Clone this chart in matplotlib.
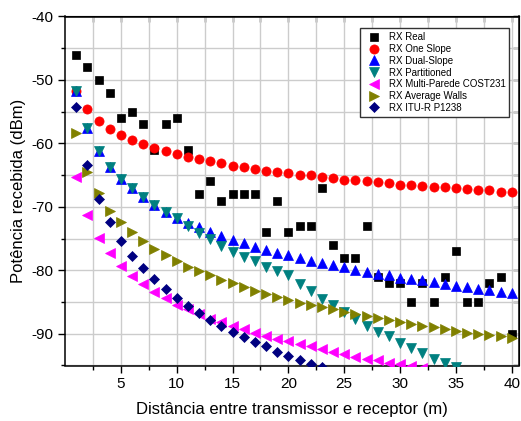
import numpy as np
import matplotlib
matplotlib.use('Agg')
import matplotlib.pyplot as plt
from matplotlib.ticker import MultipleLocator, FixedLocator

plt.rcParams['font.family'] = ['Liberation Sans', 'DejaVu Sans']
plt.rcParams['axes.unicode_minus'] = False

# distances (m)
d = np.arange(1, 41)

rx_real = [-46, -48, -50, -52, -56, -55, -57, -61, -57, -56,
           -61, -68, -66, -69, -68, -68, -68, -74, -69, -74,
           -73, -73, -67, -76, -78, -78, -73, -81, -82, -82,
           -85, -82, -85, -81, -77, -85, -85, -82, -81, -90]

rx_one_slope = [-51.7, -54.6, -56.4, -57.7, -58.6, -59.5, -60.1, -60.7, -61.2, -61.7,
                -62.1, -62.5, -62.8, -63.1, -63.5, -63.7, -64.0, -64.3, -64.5, -64.7,
                -64.9, -65.0, -65.3, -65.5, -65.7, -65.8, -66.0, -66.1, -66.3, -66.5,
                -66.6, -66.7, -66.8, -66.9, -67.0, -67.2, -67.3, -67.4, -67.6, -67.6]

rx_dual_slope = [-51.7, -57.6, -61.2, -63.7, -65.6, -67.1, -68.4, -69.7, -70.8, -71.8,
                 -72.6, -73.2, -73.9, -74.6, -75.2, -75.7, -76.3, -76.8, -77.2, -77.6,
                 -78.1, -78.5, -78.8, -79.2, -79.5, -80.0, -80.2, -80.6, -80.8, -81.2,
                 -81.4, -81.6, -81.9, -82.2, -82.5, -82.7, -82.9, -83.1, -83.4, -83.6]

rx_partitioned = [-51.7, -57.6, -61.2, -63.7, -65.6, -67.1, -68.4, -69.7, -70.8, -71.8,
                  -73.0, -74.1, -75.1, -76.2, -77.1, -77.9, -78.6, -79.4, -80.1, -80.7,
                  -82.1, -83.3, -84.5, -85.5, -86.6, -87.7, -88.7, -89.7, -90.4, -91.5,
                  -92.3, -93.1, -93.9, -94.6, -95.2]

rx_cost231 = [-65.3, -71.3, -74.9, -77.2, -79.3, -80.9, -82.2, -83.4, -84.4, -85.4,
              -86.1, -86.9, -87.6, -88.2, -88.8, -89.3, -89.8, -90.3, -90.8, -91.2,
              -91.6, -92.0, -92.4, -92.9, -93.2, -93.6, -93.9, -94.2, -94.6, -94.8,
              -95.1, -95.4]

rx_avg_walls = [-58.4, -64.5, -67.8, -70.6, -72.4, -74.0, -75.4, -76.6, -77.6, -78.5,
                -79.4, -80.1, -80.8, -81.5, -82.0, -82.7, -83.2, -83.7, -84.2, -84.6,
                -85.1, -85.5, -85.8, -86.1, -86.6, -86.9, -87.2, -87.5, -87.8, -88.1,
                -88.5, -88.7, -89.0, -89.2, -89.5, -89.8, -90.0, -90.2, -90.4, -90.6]

rx_itu = [-54.3, -63.4, -68.8, -72.4, -75.4, -77.7, -79.7, -81.4, -83.0, -84.4,
          -85.6, -86.8, -87.8, -88.8, -89.7, -90.5, -91.3, -92.0, -92.8, -93.5,
          -94.2, -94.8, -95.2, -96.0]

series = [
    ('RX Real', rx_real, 's', 'black', 5.6),
    ('RX One Slope', rx_one_slope, 'o', '#ff0000', 6.6),
    ('RX Dual-Slope', rx_dual_slope, '^', '#0000ff', 7.0),
    ('RX Partitioned', rx_partitioned, 'v', '#008080', 7.0),
    ('RX Multi-Parede COST231', rx_cost231, '<', '#ff00ff', 7.0),
    ('RX Average Walls', rx_avg_walls, '>', '#808000', 7.0),
    ('RX ITU-R P1238', rx_itu, 'D', '#000080', 4.8),
]

fig = plt.figure(figsize=(5.21, 4.21), dpi=100)
ax = fig.add_axes([65 / 521, 1 - 365.5 / 421, 454 / 521, 349 / 421])

for label, vals, m, c, ms in series:
    ax.plot(d[:len(vals)], vals, linestyle='none', marker=m, color=c,
            markersize=ms, markeredgewidth=0.5, label=label, zorder=3)

ax.set_xlim(0, 40.65)
ax.set_ylim(-95, -40)
ax.xaxis.set_major_locator(FixedLocator([5, 10, 15, 20, 25, 30, 35, 40]))
ax.xaxis.set_minor_locator(FixedLocator([2.5, 7.5, 12.5, 17.5, 22.5, 27.5, 32.5, 37.5]))
ax.yaxis.set_major_locator(MultipleLocator(10))
ax.yaxis.set_minor_locator(MultipleLocator(5))

ax.grid(True, which='both', color='#cccccc', linewidth=1.0, zorder=0)
ax.set_axisbelow(True)

ax.tick_params(which='major', direction='out', length=5, width=1, labelsize=11)
ax.tick_params(which='minor', direction='out', length=3, width=1)
for s in ax.spines.values():
    s.set_linewidth(1.1)

# mirrored ticks on top and right, pointing in
top = ax.secondary_xaxis('top')
top.xaxis.set_major_locator(FixedLocator([2.5, 5, 7.5, 10, 12.5, 15, 17.5, 20, 22.5,
                                          25, 27.5, 30, 32.5, 35, 37.5, 40]))
top.tick_params(direction='in', length=4, width=1, labeltop=False)
right = ax.secondary_yaxis('right')
right.yaxis.set_major_locator(MultipleLocator(5))
right.tick_params(direction='in', length=4, width=1, labelright=False)

ax.set_xlabel('Distância entre transmissor e receptor (m)', fontsize=12, labelpad=8)
ax.set_ylabel('Potência recebida (dBm)', fontsize=12, labelpad=4)

leg = ax.legend(loc='upper right', bbox_to_anchor=(0.9786, 0.966), borderaxespad=0,
                fontsize=7, numpoints=1, labelspacing=0.18, handlelength=2.0,
                handletextpad=0.5, borderpad=0.4, fancybox=False, framealpha=1)
leg.get_frame().set_edgecolor('#333333')
leg.get_frame().set_linewidth(1.0)

fig.savefig('out.png', dpi=100)
